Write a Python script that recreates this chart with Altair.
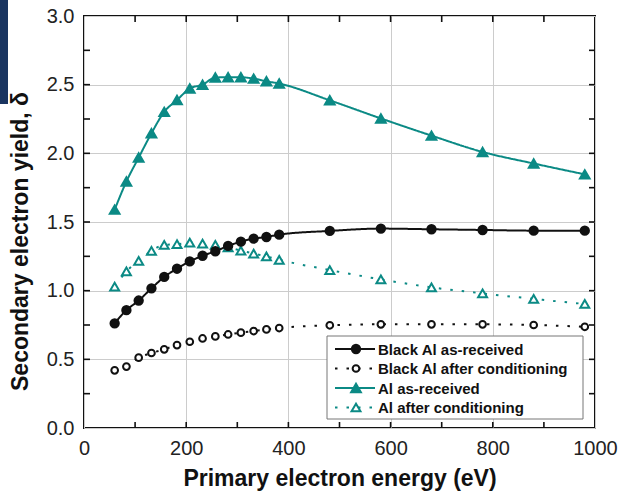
import altair as alt
import pandas as pd

# ---- data ----
ENERGY = [60, 83, 107, 132, 157, 182, 207, 232, 257, 282, 307, 332, 357, 382,
          481, 581, 680, 780, 880, 980]
BLACK_AS_RECEIVED = [0.762, 0.858, 0.928, 1.017, 1.100, 1.160, 1.213, 1.254, 1.287, 1.326,
                     1.357, 1.379, 1.391, 1.408, 1.435, 1.452, 1.447, 1.442, 1.437, 1.437]
BLACK_AFTER = [0.420, 0.447, 0.512, 0.546, 0.573, 0.604, 0.628, 0.652, 0.667, 0.681,
               0.694, 0.706, 0.718, 0.728, 0.748, 0.755, 0.755, 0.755, 0.750, 0.737]
AL_AS_RECEIVED = [1.590, 1.795, 1.969, 2.146, 2.302, 2.388, 2.472, 2.500, 2.552, 2.554,
                  2.554, 2.544, 2.525, 2.508, 2.386, 2.254, 2.129, 2.010, 1.926, 1.847]
AL_AFTER = [1.029, 1.140, 1.217, 1.290, 1.333, 1.338, 1.350, 1.343, 1.333, 1.316,
            1.292, 1.270, 1.249, 1.225, 1.150, 1.082, 1.024, 0.980, 0.940, 0.903]

SERIES_NAMES = ["Black Al as-received", "Black Al after conditioning",
                "Al as-received", "Al after conditioning"]
SERIES_VALUES = [BLACK_AS_RECEIVED, BLACK_AFTER, AL_AS_RECEIVED, AL_AFTER]

X_LABEL_VALUES = [0, 200, 400, 600, 800, 1000]
Y_LABEL_VALUES = [0.0, 0.5, 1.0, 1.5, 2.0, 2.5, 3.0]
X_TICKS = [100, 200, 300, 400, 500, 600, 700, 800, 900]
Y_TICKS = [0.25, 0.5, 0.75, 1.0, 1.25, 1.5, 1.75, 2.0, 2.25, 2.5, 2.75]

# ---- styles ----
BLACK = "#111111"
TEAL = "#0b8a85"
STYLES = [
    dict(color=BLACK, dash=[1, 0], shape="circle", filled=True, size=70),
    dict(color=BLACK, dash=[2.5, 9], shape="circle", filled=False, size=45),
    dict(color=TEAL, dash=[1, 0], shape="triangle-up", filled=True, size=95),
    dict(color=TEAL, dash=[2.5, 9], shape="triangle-up", filled=False, size=80),
]

W, H = 511, 412

xscale = alt.Scale(domain=[0, 1000], nice=False, zero=False)
yscale = alt.Scale(domain=[0, 3], nice=False, zero=False)

X = alt.X("x:Q", scale=xscale,
          axis=alt.Axis(values=X_LABEL_VALUES, format="d", title="Primary electron energy (eV)",
                        grid=True, ticks=False, domain=False, labelPadding=10,
                        labelFlush=False, labelOverlap=False, titlePadding=9))
Y = alt.Y("y:Q", scale=yscale,
          axis=alt.Axis(values=Y_LABEL_VALUES, format=".1f",
                        title="Secondary electron yield, δ",
                        grid=True, ticks=False, domain=False, labelPadding=10,
                        labelFlush=False, labelOverlap=False, titlePadding=14,
                        titleY=225))

layers = []

# decorative slide corner
layers.append(
    alt.Chart(pd.DataFrame({"a": [0]})).mark_rect(color="#1a3560").encode(
        x=alt.value(-84), x2=alt.value(-76), y=alt.value(-16), y2=alt.value(88))
)

# inward ticks on all four sides
xt = pd.DataFrame({"x": X_TICKS})
yt = pd.DataFrame({"y": Y_TICKS})
tick_style = dict(color=BLACK, strokeWidth=1.6)
layers.append(alt.Chart(xt).mark_rule(**tick_style).encode(x=X, y=alt.value(H), y2=alt.value(H - 6)))
layers.append(alt.Chart(xt).mark_rule(**tick_style).encode(x=X, y=alt.value(0), y2=alt.value(6)))
layers.append(alt.Chart(yt).mark_rule(**tick_style).encode(y=Y, x=alt.value(0), x2=alt.value(6)))
layers.append(alt.Chart(yt).mark_rule(**tick_style).encode(y=Y, x=alt.value(W), x2=alt.value(W - 6)))

# data series
order = [3, 2, 1, 0]
for i in order:
    st = STYLES[i]
    df = pd.DataFrame({"x": ENERGY, "y": SERIES_VALUES[i]})
    line = alt.Chart(df).mark_line(color=st["color"], strokeWidth=2,
                                   strokeDash=st["dash"], interpolate="monotone").encode(x=X, y=Y)
    pts = alt.Chart(df).mark_point(shape=st["shape"], size=st["size"], opacity=1,
                                   filled=True,
                                   fill=st["color"] if st["filled"] else "white",
                                   stroke=st["color"], strokeWidth=2).encode(x=X, y=Y)
    layers += [line, pts]

# legend box
layers.append(
    alt.Chart(pd.DataFrame({"a": [0]})).mark_rect(fill="white", stroke="#777777",
                                                   strokeWidth=1).encode(
        x=alt.value(243), x2=alt.value(499), y=alt.value(320), y2=alt.value(403))
)
ROW_Y = [333, 352.5, 372, 391.5]
for i, name in enumerate(SERIES_NAMES):
    st = STYLES[i]
    ry = ROW_Y[i]
    one = pd.DataFrame({"label": [name]})
    layers.append(alt.Chart(one).mark_rule(color=st["color"], strokeWidth=2,
                                           strokeDash=st["dash"]).encode(
        x=alt.value(251), x2=alt.value(291), y=alt.value(ry)))
    layers.append(alt.Chart(one).mark_point(shape=st["shape"], size=st["size"], opacity=1,
                                            filled=True,
                                            fill=st["color"] if st["filled"] else "white",
                                            stroke=st["color"], strokeWidth=2).encode(
        x=alt.value(272), y=alt.value(ry)))
    layers.append(alt.Chart(one).mark_text(align="left", baseline="middle",
                                           font="Liberation Sans", fontSize=15,
                                           fontWeight="bold", color=BLACK).encode(
        x=alt.value(294), y=alt.value(ry + 0.5), text="label:N"))

chart = alt.layer(*layers).properties(
    width=W, height=H,
    background="white",
    autosize=alt.AutoSizeParams(type="none"),
    padding={"left": 84, "top": 16, "right": 25, "bottom": 66},
).configure_view(
    stroke=BLACK, strokeWidth=2
).configure_axis(
    labelFont="Liberation Sans", labelFontSize=20, labelColor="#222222",
    titleFont="Liberation Sans", titleFontSize=23, titleFontWeight="bold",
    titleColor=BLACK, gridColor="#cccccc", gridWidth=1
)

chart.save("out.html", embed_options={"renderer": "svg", "actions": False})
